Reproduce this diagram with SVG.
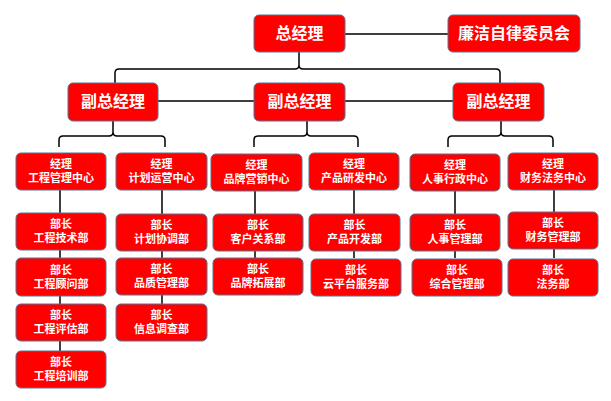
<svg xmlns="http://www.w3.org/2000/svg" width="611" height="401" viewBox="0 0 611 401">
<style>
rect{fill:#ff0000;stroke:#5b7191;stroke-width:1}
text{fill:#fff;font-family:"Noto Sans CJK SC",sans-serif;font-weight:bold;text-anchor:middle}
.b{font-size:16px}.s{font-size:11px}
#c path{fill:none;stroke:#000;stroke-width:1.5}
</style>
<rect width="611" height="401" style="fill:#fff;stroke:none"/>
<g id="c">
<path d="M299 52V65Q299 69 295 69H119Q115 69 115 73V83M303 69H496Q500 69 500 73V83M299 65Q299 69 303 69"/>
<path d="M345 34H448M158 101H254M345 101H453"/>
<path d="M113 121V132Q113 136 109 136H63Q59 136 59 140V147M117 136H161Q165 136 165 140V147M113 132Q113 136 117 136"/>
<path d="M307 121V132Q307 136 303 136H258Q254 136 254 140V147M311 136H354Q358 136 358 140V147M307 132Q307 136 311 136"/>
<path d="M501 121V132Q501 136 497 136H452Q448 136 448 140V147M505 136H549Q553 136 553 140V147M501 132Q501 136 505 136"/>
<path d="M60 190V351M162 190V304M255 190V258M354 190V258M455 190V258M554 190V258"/>
</g>
<g id="n0"><rect x="254" y="15" width="91" height="37" rx="5"/><text class="b" x="299.5" y="39">总经理</text></g>
<g id="n1"><rect x="448" y="15" width="132" height="37" rx="5"/><text class="b" x="514" y="39">廉洁自律委员会</text></g>
<g id="v1"><rect x="68" y="83" width="90" height="38" rx="5"/><text class="b" x="113" y="107">副总经理</text></g>
<g id="v2"><rect x="254" y="83" width="91" height="38" rx="5"/><text class="b" x="299.5" y="107">副总经理</text></g>
<g id="v3"><rect x="453" y="83" width="91" height="38" rx="5"/><text class="b" x="498.5" y="107">副总经理</text></g>
<g id="m1"><rect x="16" y="153" width="90" height="37" rx="5"/><text class="s" x="61" y="168">经理</text><text class="s" x="61" y="182">工程管理中心</text></g>
<g id="m2"><rect x="116" y="153" width="91" height="37" rx="5"/><text class="s" x="161.5" y="168">经理</text><text class="s" x="161.5" y="182">计划运营中心</text></g>
<g id="m3"><rect x="211" y="154" width="91" height="37" rx="5"/><text class="s" x="256.5" y="169">经理</text><text class="s" x="256.5" y="183">品牌营销中心</text></g>
<g id="m4"><rect x="309" y="153" width="90" height="37" rx="5"/><text class="s" x="354" y="168">经理</text><text class="s" x="354" y="182">产品研发中心</text></g>
<g id="m5"><rect x="410" y="154" width="90" height="37" rx="5"/><text class="s" x="455" y="169">经理</text><text class="s" x="455" y="183">人事行政中心</text></g>
<g id="m6"><rect x="508" y="153" width="90" height="37" rx="5"/><text class="s" x="553" y="168">经理</text><text class="s" x="553" y="182">财务法务中心</text></g>
<g id="d1"><rect x="16" y="213" width="90" height="37" rx="5"/><text class="s" x="61" y="228">部长</text><text class="s" x="61" y="242">工程技术部</text></g>
<g id="d2"><rect x="16" y="258" width="90" height="38" rx="5"/><text class="s" x="61" y="274">部长</text><text class="s" x="61" y="288">工程顾问部</text></g>
<g id="d3"><rect x="16" y="304" width="90" height="37" rx="5"/><text class="s" x="61" y="319">部长</text><text class="s" x="61" y="333">工程评估部</text></g>
<g id="d4"><rect x="16" y="351" width="90" height="37" rx="5"/><text class="s" x="61" y="366">部长</text><text class="s" x="61" y="380">工程培训部</text></g>
<g id="d5"><rect x="116" y="214" width="91" height="37" rx="5"/><text class="s" x="161.5" y="229">部长</text><text class="s" x="161.5" y="243">计划协调部</text></g>
<g id="d6"><rect x="116" y="258" width="91" height="37" rx="5"/><text class="s" x="161.5" y="273">部长</text><text class="s" x="161.5" y="287">品质管理部</text></g>
<g id="d7"><rect x="116" y="304" width="91" height="37" rx="5"/><text class="s" x="161.5" y="319">部长</text><text class="s" x="161.5" y="333">信息调查部</text></g>
<g id="d8"><rect x="213" y="214" width="90" height="37" rx="5"/><text class="s" x="258" y="229">部长</text><text class="s" x="258" y="243">客户关系部</text></g>
<g id="d9"><rect x="213" y="258" width="90" height="37" rx="5"/><text class="s" x="258" y="273">部长</text><text class="s" x="258" y="287">品牌拓展部</text></g>
<g id="d10"><rect x="309" y="214" width="91" height="37" rx="5"/><text class="s" x="354.5" y="229">部长</text><text class="s" x="354.5" y="243">产品开发部</text></g>
<g id="d11"><rect x="311" y="259" width="90" height="37" rx="5"/><text class="s" x="356" y="274">部长</text><text class="s" x="356" y="288">云平台服务部</text></g>
<g id="d12"><rect x="410" y="214" width="90" height="37" rx="5"/><text class="s" x="455" y="229">部长</text><text class="s" x="455" y="243">人事管理部</text></g>
<g id="d13"><rect x="412" y="259" width="90" height="37" rx="5"/><text class="s" x="457" y="274">部长</text><text class="s" x="457" y="288">综合管理部</text></g>
<g id="d14"><rect x="508" y="212" width="90" height="37" rx="5"/><text class="s" x="553" y="227">部长</text><text class="s" x="553" y="241">财务管理部</text></g>
<g id="d15"><rect x="508" y="259" width="90" height="37" rx="5"/><text class="s" x="553" y="274">部长</text><text class="s" x="553" y="288">法务部</text></g>
</svg>
